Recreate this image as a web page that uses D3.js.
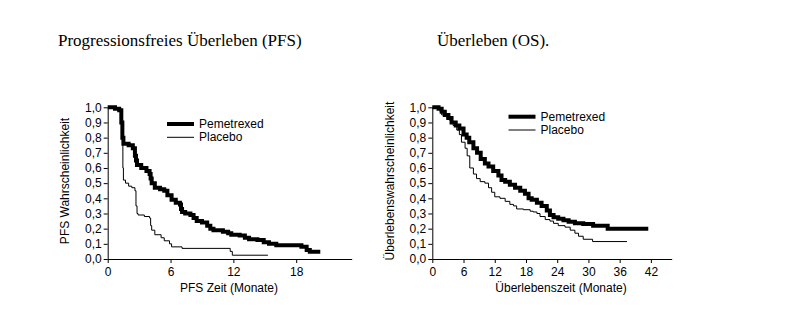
<!DOCTYPE html>
<html>
<head>
<meta charset="utf-8">
<style>
  body { margin: 0; background: #fff; }
  svg { display: block; }
  .axis text { font-family: Arial, "Liberation Sans", sans-serif; font-size: 12px; fill: #000; }
  .lbl { font-family: Arial, "Liberation Sans", sans-serif; font-size: 12px; fill: #000; }
  .title { font-family: "Times New Roman", "Liberation Serif", serif; font-size: 17px; fill: #000; }
</style>
<script src="https://cdn.jsdelivr.net/npm/d3@7"></script>
</head>
<body>
<script>
// PFS (months, probability)
var pfsPemT = [0, 0.7, 1.1, 1.3, 1.4, 1.5, 2.0, 2.4, 2.6, 2.7, 2.8, 3.2, 3.7, 4.0, 4.1, 4.2, 4.5, 5.0, 5.4, 5.7, 6.1, 6.5, 6.9, 7.0, 7.1, 7.4, 7.9, 8.2, 8.5, 9.0, 9.5, 9.8, 10.1, 11.0, 11.5, 11.8, 12.6, 13.1, 13.5, 14.3, 14.9, 15.4, 16.1, 18.5, 19.0, 19.3, 20.3];
var pfsPemS = [1, 0.99, 0.98, 0.9, 0.8, 0.76, 0.75, 0.73, 0.68, 0.65, 0.62, 0.6, 0.58, 0.56, 0.53, 0.5, 0.47, 0.46, 0.45, 0.42, 0.39, 0.37, 0.36, 0.33, 0.31, 0.3, 0.29, 0.27, 0.25, 0.24, 0.22, 0.2, 0.19, 0.18, 0.17, 0.16, 0.155, 0.14, 0.13, 0.125, 0.11, 0.1, 0.09, 0.08, 0.06, 0.048, 0.048];
var pfsPlaT = [0, 0.7, 1.1, 1.3, 1.4, 1.45, 1.5, 1.7, 2.0, 2.3, 2.6, 2.7, 2.8, 2.9, 3.5, 4.0, 4.1, 4.2, 4.5, 5.1, 5.4, 5.9, 6.1, 7.1, 11.7, 11.9, 15.3];
var pfsPlaS = [1, 0.99, 0.98, 0.9, 0.78, 0.6, 0.52, 0.5, 0.48, 0.47, 0.45, 0.35, 0.3, 0.29, 0.28, 0.27, 0.22, 0.19, 0.16, 0.14, 0.12, 0.1, 0.08, 0.07, 0.05, 0.025, 0.025];

// OS (months, probability)
var osPemT = [0, 1.2, 1.8, 2.4, 3.1, 3.7, 4.5, 5.2, 6.0, 6.6, 7.1, 7.9, 8.6, 9.3, 10.1, 10.8, 11.7, 12.7, 13.3, 14.0, 14.9, 15.9, 16.9, 17.8, 18.5, 19.1, 20.1, 21.0, 22.0, 22.6, 23.3, 24.2, 25.2, 26.2, 27.4, 29.0, 30.9, 31.9, 33.7, 41.5];
var osPemS = [1, 0.99, 0.97, 0.95, 0.93, 0.9, 0.88, 0.86, 0.82, 0.8, 0.77, 0.73, 0.7, 0.66, 0.63, 0.61, 0.58, 0.55, 0.52, 0.51, 0.49, 0.47, 0.45, 0.43, 0.4, 0.39, 0.37, 0.35, 0.32, 0.29, 0.275, 0.265, 0.255, 0.245, 0.235, 0.23, 0.22, 0.22, 0.2, 0.2];
var osPlaT = [0, 1.2, 1.5, 1.8, 2.8, 3.4, 4.0, 4.7, 5.2, 5.6, 6.3, 6.7, 7.2, 7.9, 8.5, 9.2, 10.1, 10.8, 11.4, 12.0, 13.0, 14.0, 14.9, 15.6, 16.2, 17.5, 18.8, 19.4, 20.1, 20.7, 21.7, 22.6, 23.3, 24.2, 25.5, 26.5, 27.4, 28.1, 29.0, 30.8, 37.4];
var osPlaS = [1, 0.99, 0.97, 0.95, 0.92, 0.91, 0.88, 0.85, 0.82, 0.77, 0.73, 0.68, 0.6, 0.56, 0.53, 0.51, 0.5, 0.47, 0.44, 0.41, 0.4, 0.38, 0.36, 0.35, 0.33, 0.325, 0.315, 0.31, 0.3, 0.28, 0.26, 0.25, 0.235, 0.22, 0.21, 0.19, 0.17, 0.15, 0.13, 0.115, 0.115];

var yTicks = [0, 0.1, 0.2, 0.3, 0.4, 0.5, 0.6, 0.7, 0.8, 0.9, 1.0];
var pfsTicks = [0, 6, 12, 18];
var osTicks = [0, 6, 12, 18, 24, 30, 36, 42];
var seriesNames = ["Pemetrexed", "Placebo"];

function zip(t, s) { return t.map(function(d, i) { return [d, s[i]]; }); }

var svg = d3.select("body").append("svg")
  .attr("width", 795).attr("height", 321);

function panel(o) {
  var x = d3.scaleLinear().domain([0, o.xMax]).range([o.x0, o.x1]);
  var y = d3.scaleLinear().domain([0, 1]).range([259, 107.3]);
  var g = svg.append("g");

  g.append("g").attr("class", "axis")
    .attr("transform", "translate(0,259)")
    .call(d3.axisBottom(x).tickValues(o.ticks).tickSize(4).tickPadding(4).tickSizeOuter(0))
    .call(function(a) { a.select(".domain").attr("stroke", "#000"); });

  g.append("g").attr("class", "axis")
    .attr("transform", "translate(" + o.x0 + ",0)")
    .call(d3.axisLeft(y).tickValues(yTicks).tickSize(4).tickPadding(2).tickSizeOuter(0)
      .tickFormat(function(d) { return d3.format(".1f")(d).replace(".", ","); }))
    .call(function(a) { a.select(".domain").attr("stroke", "#000"); });

  var line = d3.line().x(function(d) { return x(d[0]); }).y(function(d) { return y(d[1]); })
    .curve(d3.curveStepAfter);

  g.append("path").datum(o.pla).attr("d", line)
    .attr("fill", "none").attr("stroke", "#000").attr("stroke-width", 1);
  g.append("path").datum(o.pem).attr("d", line)
    .attr("fill", "none").attr("stroke", "#000").attr("stroke-width", 4)
    .attr("stroke-linejoin", "miter");

  // legend
  seriesNames.forEach(function(n, i) {
    var ly = o.legY + i * 13.3;
    g.append("line").attr("x1", o.legX).attr("x2", o.legX + 27).attr("y1", ly).attr("y2", ly)
      .attr("stroke", "#000").attr("stroke-width", i === 0 ? 4 : 1);
    g.append("text").attr("class", "lbl").attr("x", o.legX + 32).attr("y", ly + 4).text(n);
  });

  g.append("text").attr("class", "lbl").attr("text-anchor", "middle")
    .attr("x", o.xLabX).attr("y", 292).text(o.xLab);
  g.append("text").attr("class", "lbl").attr("text-anchor", "middle")
    .attr("transform", "translate(" + o.yLabX + ",181) rotate(-90)").text(o.yLab);

  g.append("text").attr("class", "title").attr("x", o.titleX).attr("y", 46).text(o.title);
}

panel({
  xMax: 23.3, x0: 107.7, x1: 351.7, ticks: pfsTicks,
  pem: zip(pfsPemT, pfsPemS), pla: zip(pfsPlaT, pfsPlaS),
  legX: 167, legY: 124,
  xLab: "PFS Zeit (Monate)", xLabX: 229,
  yLab: "PFS Wahrscheinlichkeit", yLabX: 69,
  title: "Progressionsfreies Überleben (PFS)", titleX: 58
});

panel({
  xMax: 46, x0: 432.3, x1: 671.7, ticks: osTicks,
  pem: zip(osPemT, osPemS), pla: zip(osPlaT, osPlaS),
  legX: 508.5, legY: 116.7,
  xLab: "Überlebenszeit (Monate)", xLabX: 561,
  yLab: "Überlebenswahrscheinlichkeit", yLabX: 394,
  title: "Überleben (OS).", titleX: 437
});
</script>
</body>
</html>
